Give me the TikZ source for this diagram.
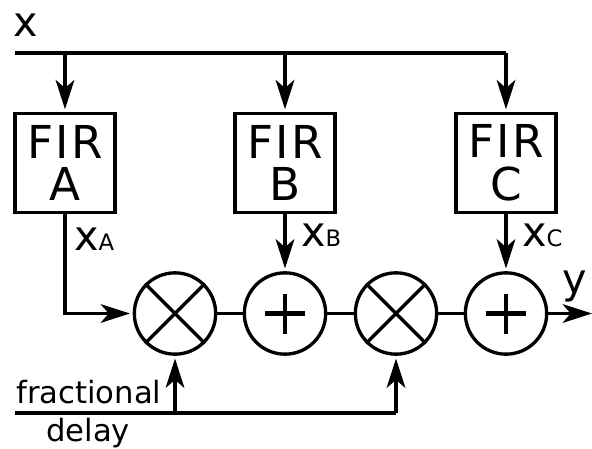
\documentclass[tikz,border=0pt]{standalone}
\usepackage{fontspec}
\setmainfont{DejaVu Sans}
\usetikzlibrary{arrows.meta,calc}
\tikzset{
 tiphead/.tip={Stealth[length=22pt,width=14pt,inset=6pt]},
 wire/.style={line width=2.5pt},
 arrowwire/.style={wire,shorten >=2pt,-tiphead},
 fir/.style={draw=black,line width=2.5pt,fill=white,minimum width=75pt,minimum height=74pt,inner sep=0pt,align=center,font=\fontsize{34}{32}\selectfont\addfontfeatures{LetterSpace=5}},
 op/.style={draw=black,line width=2.5pt,fill=white,circle,minimum size=61pt,inner sep=0pt},
 lab/.style={inner sep=0pt,font=\fontsize{31}{32}\selectfont},
 txt/.style={inner sep=0pt,font=\fontsize{23}{26}\selectfont},
}
\begin{document}
\begin{tikzpicture}[x=0.75pt,y=-0.75pt]
\useasboundingbox[fill=white] (0,0) rectangle (592,449);
\node[fir] (A) at (65,163) {FIR\\A};
\node[fir] (B) at (285,163) {FIR\\B};
\node[fir] (C) at (506,163) {FIR\\C};
\node[op] (m1) at (175,313.5) {};
\node[op] (p1) at (285,313.5) {};
\node[op] (m2) at (396,313.5) {};
\node[op] (p2) at (506,313.5) {};
\foreach \n in {m1,m2}{
 \draw[wire] (\n.north west) -- (\n.south east);
 \draw[wire] (\n.north east) -- (\n.south west);
}
\foreach \n in {p1,p2}{
 \draw[line width=3.2pt] ($(\n)+(-20,0)$) -- ($(\n)+(20,0)$);
 \draw[line width=3.2pt] ($(\n)+(0,-20)$) -- ($(\n)+(0,20)$);
}
\coordinate (xstart) at (15,53);
\coordinate (xend) at (506,53);
\coordinate (xa) at (65,53);
\coordinate (xb) at (285,53);
\coordinate (out) at (592,313.5);
\coordinate (fdl) at (15,413);
\coordinate (fd1) at (175,413);
\coordinate (fd2) at (396,413);
\coordinate (acorner) at (65,313.5);
\draw[wire] (xstart) -- (xend);
\draw[arrowwire] (xa) -- (A.north);
\draw[arrowwire] (xb) -- (B.north);
\draw[arrowwire] (xend) -- (C.north);
\draw[arrowwire] (A.south) -- (acorner) -- (m1.west);
\draw[arrowwire] (B.south) -- (p1.north);
\draw[arrowwire] (C.south) -- (p2.north);
\draw[wire] (m1) -- (p1);
\draw[wire] (p1) -- (m2);
\draw[wire] (m2) -- (p2);
\draw[wire,-tiphead] (p2.east) -- (out);
\draw[wire] (fdl) -- (fd1) -- (fd2);
\draw[arrowwire] (fd1) -- (m1.south);
\draw[arrowwire] (fd2) -- (m2.south);
\node[lab,anchor=base west] (lx) at (13,37) {x};
\node[lab,anchor=base west] (lxa) at (74,250) {x\fontsize{17}{20}\selectfont A};
\node[lab,anchor=base west] (lxb) at (301,246) {x\fontsize{17}{20}\selectfont B};
\node[lab,anchor=base west] (lxc) at (522,246) {x\fontsize{17}{20}\selectfont C};
\node[lab,anchor=base west] (ly) at (562,293) {y};
\node[txt,anchor=base west] (t1) at (16,403) {fractional};
\node[txt,anchor=base west] (t2) at (46,441) {delay};
\end{tikzpicture}
\end{document}
